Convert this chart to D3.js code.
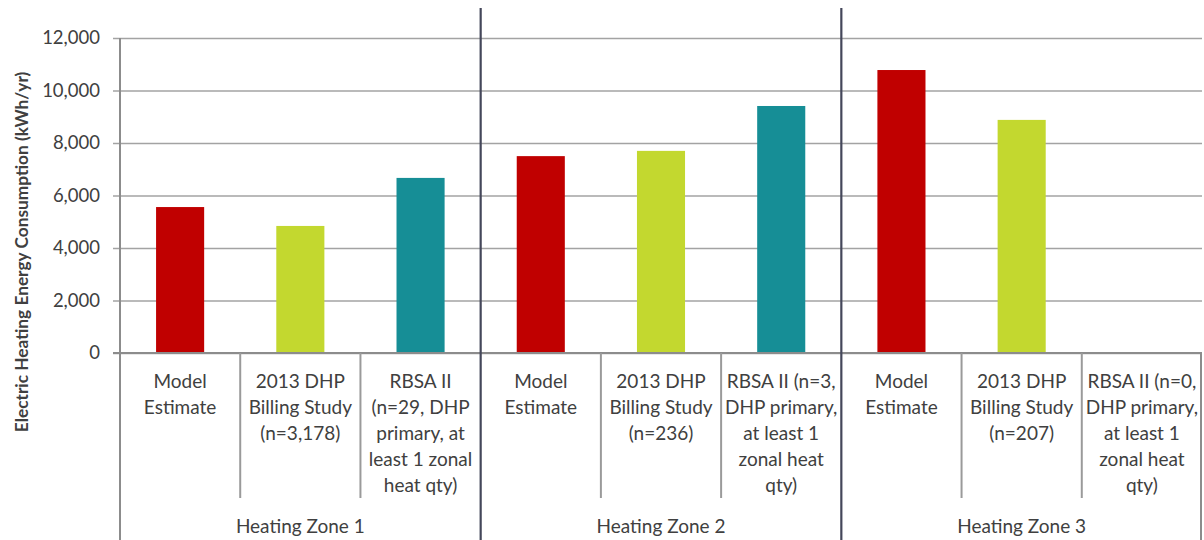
<!DOCTYPE html>
<html>
<head>
<meta charset="utf-8">
<script src="https://cdn.jsdelivr.net/npm/d3@7"></script>
<style>
  html, body { margin: 0; padding: 0; background: #fff; }
  svg { display: block; }
  text { font-family: Lato, "Open Sans", sans-serif; fill: #404040; }
</style>
</head>
<body>
<svg id="chart" width="1204" height="540"></svg>
<script>
// Heating zones and the three sources compared inside each zone
const zones = ["Heating Zone 1", "Heating Zone 2", "Heating Zone 3"];
const sources = ["model", "billing", "rbsa"];

// Category label lines (per zone, per source)
const categoryLabels = [
  [["Model", "Estimate"], ["2013 DHP", "Billing Study", "(n=3,178)"], ["RBSA II", "(n=29, DHP", "primary, at", "least 1 zonal", "heat qty)"]],
  [["Model", "Estimate"], ["2013 DHP", "Billing Study", "(n=236)"], ["RBSA II (n=3,", "DHP primary,", "at least 1", "zonal heat", "qty)"]],
  [["Model", "Estimate"], ["2013 DHP", "Billing Study", "(n=207)"], ["RBSA II (n=0,", "DHP primary,", "at least 1", "zonal heat", "qty)"]]
];

// Electric heating energy consumption, kWh/yr (null = no sample)
const modelEstimate = [5560, 7500, 10780];
const billingStudy = [4840, 7700, 8880];
const rbsaII = [6670, 9410, null];

const yTicks = [0, 2000, 4000, 6000, 8000, 10000, 12000];
const colors = { model: "#c00000", billing: "#c3d82f", rbsa: "#168e96" };

const seriesValues = { model: modelEstimate, billing: billingStudy, rbsa: rbsaII };

const rows = [];
zones.forEach((z, zi) => {
  sources.forEach((s, si) => {
    rows.push({ key: zi + "|" + s, zone: zi, source: s, value: seriesValues[s][zi], label: categoryLabels[zi][si] });
  });
});

const svg = d3.select("#chart");
const plotLeft = 120, plotRight = 1202, plotTop = 38, plotBottom = 353;

const x = d3.scaleBand().domain(rows.map(d => d.key)).range([plotLeft, plotRight]).paddingInner(0).paddingOuter(0);
const y = d3.scaleLinear().domain([0, 12000]).range([plotBottom, plotTop]);
const step = x.step();
const barW = step * 0.4;

// Horizontal gridlines with left tick marks
const yAxis = d3.axisLeft(y).tickValues(yTicks).tickFormat(d3.format(",")).tickSize(-(plotRight - plotLeft)).tickPadding(20);
const gy = svg.append("g").attr("transform", `translate(${plotLeft},0)`).call(yAxis);
gy.select(".domain").remove();
gy.selectAll(".tick line").attr("stroke", "#a3a3a3").attr("stroke-width", 1.5).attr("x1", -7);
gy.selectAll(".tick text").style("font-size", "18.5px").attr("fill", "#404040");

// Bars
svg.append("g").selectAll("rect")
  .data(rows.filter(d => d.value != null))
  .join("rect")
  .attr("x", d => x(d.key) + (step - barW) / 2)
  .attr("width", barW)
  .attr("y", d => y(d.value))
  .attr("height", d => y(0) - y(d.value))
  .attr("fill", d => colors[d.source]);

// Baseline (value axis at zero)
svg.append("line").attr("x1", plotLeft - 7).attr("x2", plotRight).attr("y1", y(0)).attr("y2", y(0))
  .attr("stroke", "#8c8c8c").attr("stroke-width", 2);

// Left value axis line, running down through the category area
svg.append("line").attr("x1", plotLeft).attr("x2", plotLeft).attr("y1", plotTop).attr("y2", 540)
  .attr("stroke", "#8c8c8c").attr("stroke-width", 2);

// Category separators
const boundaries = d3.range(1, rows.length + 1).map(i => plotLeft + i * step);
boundaries.forEach((bx, i) => {
  const k = i + 1;
  if (k % 3 === 0 && k < rows.length) {
    svg.append("line").attr("x1", bx).attr("x2", bx).attr("y1", 8).attr("y2", 540)
      .attr("stroke", "#44475a").attr("stroke-width", 2.2);
  } else if (k === rows.length) {
    svg.append("line").attr("x1", bx - 1).attr("x2", bx - 1).attr("y1", y(0)).attr("y2", 540)
      .attr("stroke", "#8c8c8c").attr("stroke-width", 2);
  } else {
    svg.append("line").attr("x1", bx).attr("x2", bx).attr("y1", y(0)).attr("y2", 498)
      .attr("stroke", "#9a9a9a").attr("stroke-width", 2);
  }
});

// Category labels
const lineH = 26;
const catG = svg.append("g");
rows.forEach(d => {
  const t = catG.append("text")
    .attr("text-anchor", "middle")
    .style("font-size", "19px")
    .attr("x", x(d.key) + step / 2)
    .attr("y", 388);
  d.label.forEach((line, i) => {
    t.append("tspan").attr("x", x(d.key) + step / 2).attr("y", 388 + i * lineH).text(line);
  });
});

// Zone labels
zones.forEach((z, zi) => {
  const x0 = x(zi + "|model"), x1 = x(zi + "|rbsa") + step;
  svg.append("text").attr("text-anchor", "middle").style("font-size", "19px")
    .attr("x", (x0 + x1) / 2).attr("y", 533).text(z);
});

// Value axis title
svg.append("text")
  .attr("transform", "translate(28, 252) rotate(-90)")
  .attr("text-anchor", "middle")
  .style("font-size", "17.3px").style("font-weight", "bold")
  .text("Electric Heating Energy Consumption (kWh/yr)");
</script>
</body>
</html>
